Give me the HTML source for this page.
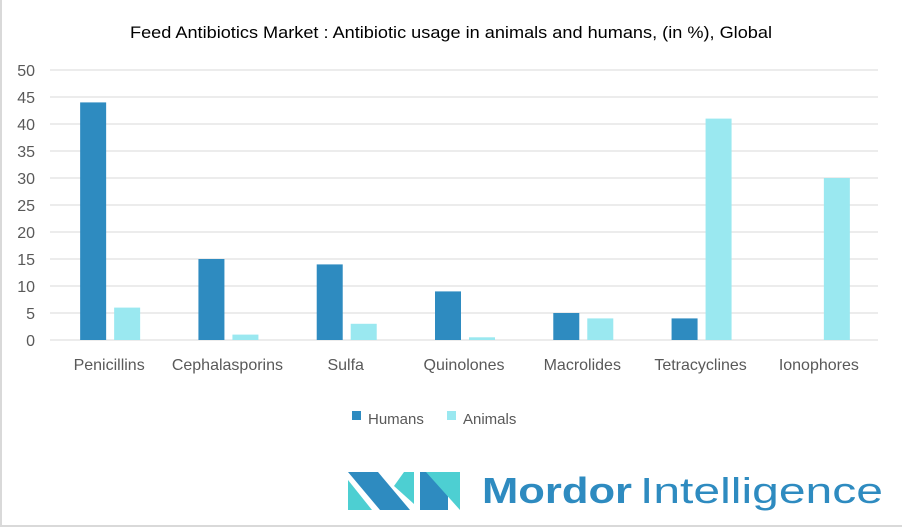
<!DOCTYPE html>
<html><head><meta charset="utf-8"><style>
body{margin:0;background:#fff;font-family:"Liberation Sans",sans-serif;}
#wrap{position:relative;width:902px;height:527px;overflow:hidden;box-sizing:border-box;border:2px solid #d9d9d9;border-top:none;border-right:none;}
</style></head><body>
<div id="wrap">
<svg id="chart" width="902" height="527" style="position:absolute;left:-2px;top:0">
<text x="130" y="38" font-size="17" fill="#000" textLength="642" lengthAdjust="spacingAndGlyphs">Feed Antibiotics Market : Antibiotic usage in animals and humans, (in %), Global</text>
<g id="grid"></g><g id="bars"></g><g id="xlabels"></g>
<g>
<rect x="352" y="411" width="9" height="9" fill="#2e8bc0"/>
<text x="368" y="424" font-size="15" fill="#595959">Humans</text>
<rect x="447" y="411" width="9" height="9" fill="#9ae8f0"/>
<text x="463" y="424" font-size="15" fill="#595959">Animals</text>
</g>
<g>
<polygon points="348,472 378,472 410,510 380,510" fill="#2e8bc0"/>
<polygon points="348,480 372,510 348,510" fill="#4dcfd2"/>
<polygon points="414,472 414,504 394,486 404,472" fill="#4dcfd2"/>
<polygon points="420,472 448,472 448,510 420,510" fill="#2e8bc0"/>
<polygon points="426,472 460,472 460,510" fill="#4dcfd2"/>
<text x="482" y="503" font-size="36" font-weight="bold" fill="#2e8bc0" textLength="150" lengthAdjust="spacingAndGlyphs">Mordor</text>
<text x="640" y="503" font-size="36" fill="#2e8bc0" textLength="243" lengthAdjust="spacingAndGlyphs">Intelligence</text>
</g>
</svg>
</div>
<script>
const categories=["Penicillins","Cephalasporins","Sulfa","Quinolones","Macrolides","Tetracyclines","Ionophores"];
const humans=[44,15,14,9,5,4,0];
const animals=[6,1,3,0.5,4,41,30];
const ticks=[0,5,10,15,20,25,30,35,40,45,50];
const NS="http://www.w3.org/2000/svg";
const x0=50,x1=878,y0=340,y1=70,maxV=50;
const band=(x1-x0)/categories.length;
function y(v){return y0-(v/maxV)*(y0-y1);}
function bx(i){return x0+band*i+band/2;}
function mk(t,a,p){const e=document.createElementNS(NS,t);for(const k in a)e.setAttribute(k,a[k]);p.appendChild(e);return e;}
const grid=document.getElementById('grid');
ticks.forEach(t=>{
  const l=mk('line',{x1:x0,x2:x1,y1:y(t),y2:y(t),stroke:'#d9d9d9','stroke-width':1},grid);
  
  
  const tx=mk('text',{x:35,y:y(t)+6,'text-anchor':'end','font-size':16,fill:'#595959'},grid);
  tx.textContent=t;
  
  
});
const bars=document.getElementById('bars'),xl=document.getElementById('xlabels');
categories.forEach((c,i)=>{
  const cx=bx(i);
  const h=mk('rect',{x:cx-29,y:y(humans[i]),width:26,height:y0-y(humans[i]),fill:'#2e8bc0'},bars);
  
  
  const a=mk('rect',{x:cx+5,y:y(animals[i]),width:26,height:y0-y(animals[i]),fill:'#9ae8f0'},bars);
  
  
  const t=mk('text',{x:cx,y:370,'text-anchor':'middle','font-size':16,fill:'#595959'},xl);
  t.textContent=c;
  
  
});
</script>
</body></html>
